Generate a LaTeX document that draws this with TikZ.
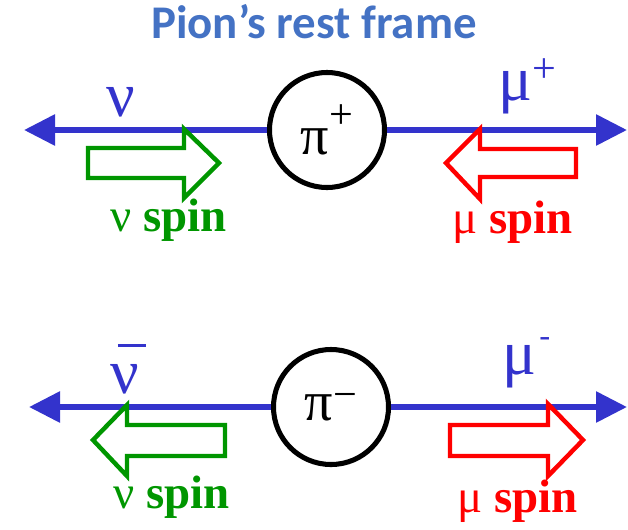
\documentclass[tikz,border=0pt]{standalone}
\usepackage{fontspec}
\setmainfont{Liberation Serif}
\newfontfamily\titlefamily{Carlito}
\usetikzlibrary{arrows.meta,positioning}

\definecolor{axisblue}{RGB}{51,51,204}
\definecolor{titleblue}{RGB}{68,114,196}
\definecolor{spingreen}{RGB}{0,150,0}
\definecolor{spinred}{RGB}{255,0,0}

\newcommand{\pionsize}{\fontsize{48}{58}\selectfont}
\newcommand{\nusize}{\fontsize{54}{64}\selectfont}
\newcommand{\musize}{\fontsize{54}{64}\selectfont}
\newcommand{\supsize}{\fontsize{36}{43}\selectfont}
\newcommand{\minisize}{\fontsize{28}{34}\selectfont}
\newcommand{\spinsize}{\fontsize{40}{48}\selectfont}

\begin{document}
\begin{tikzpicture}[
      x=0.03cm, y=-0.03cm,
      pion/.style={draw,circle,line width=4.3pt,minimum size=3.45cm,
                   inner sep=0,font=\pionsize},
      axis/.style={axisblue,line width=5pt,
                   -{Triangle[length=0.93cm,width=0.9cm]}},
      spin/.style={line width=3.8pt,line join=miter},
      particle/.style={text=axisblue,inner sep=0,anchor=base west},
      spinlbl/.style={inner sep=0,anchor=base west,font=\spinsize},
    ]
    \useasboundingbox (0,0) rectangle (628,529);

    % ── Title ──────────────────────────────────────────────────────────────
    \node[anchor=base,inner sep=0,text=titleblue,
          font=\titlefamily\fontsize{40}{48}\selectfont\bfseries]
          (title) at (314,38) {Pion’s rest frame};

    % ── pi+ decay ──────────────────────────────────────────────────────────
    \node[pion] (pip) at (327,130) {π\raisebox{0.45em}{\supsize +}};
    \coordinate (nuTip) at (24,130);
    \coordinate (muplusTip) at (627,130);

    \draw[axis] (pip) -- (nuTip);
    \draw[axis] (pip) -- (muplusTip);

    \node[particle,font=\nusize] (nu) at (106,116) {ν};
    \node[particle,font=\musize] (muplus) at (498,100)
          {μ\raisebox{0.28em}{\supsize +}};

    % spins
    \draw[spin,spingreen] (88,148) -- (184,148) -- (184,129) -- (219,163)
          -- (184,198) -- (184,178) -- (88,178) -- cycle;
    \draw[spin,spinred] (576,149) -- (480,149) -- (480,129) -- (446,163)
          -- (480,199) -- (480,177) -- (576,177) -- cycle;

    \node[spinlbl,text=spingreen] (nuspin) at (110,231) {ν \textbf{spin}};
    \node[spinlbl,text=spinred]   (muspin) at (452,233) {μ \textbf{spin}};

    % ── pi- decay ──────────────────────────────────────────────────────────
    \node[pion] (pim) at (331,407) {π\raisebox{0.22em}{\supsize −}};
    \coordinate (nubarTip) at (29,407);
    \coordinate (muminusTip) at (627,407);

    \draw[axis] (pim) -- (nubarTip);
    \draw[axis] (pim) -- (muminusTip);

    \node[particle,font=\nusize] (nubar) at (110,393)
          {\rlap{\hspace{0.12em}\rule[0.72em]{0.44em}{0.055em}}ν};
    \node[particle,font=\musize] (muminus) at (502,374)
          {μ\hspace{0.05em}\raisebox{0.43em}{\minisize -}};

    % spins
    \draw[spin,spingreen] (225,425) -- (127,425) -- (127,405) -- (93,440)
          -- (127,476) -- (127,456) -- (225,456) -- cycle;
    \draw[spin,spinred] (450,425) -- (548,425) -- (548,404) -- (583,440)
          -- (548,476) -- (548,456) -- (450,456) -- cycle;

    \node[spinlbl,text=spingreen] (nubarspin) at (113,508) {ν \textbf{spin}};
    \node[spinlbl,text=spinred]   (muminusspin) at (457,512) {μ \textbf{spin}};

  \end{tikzpicture}
\end{document}
